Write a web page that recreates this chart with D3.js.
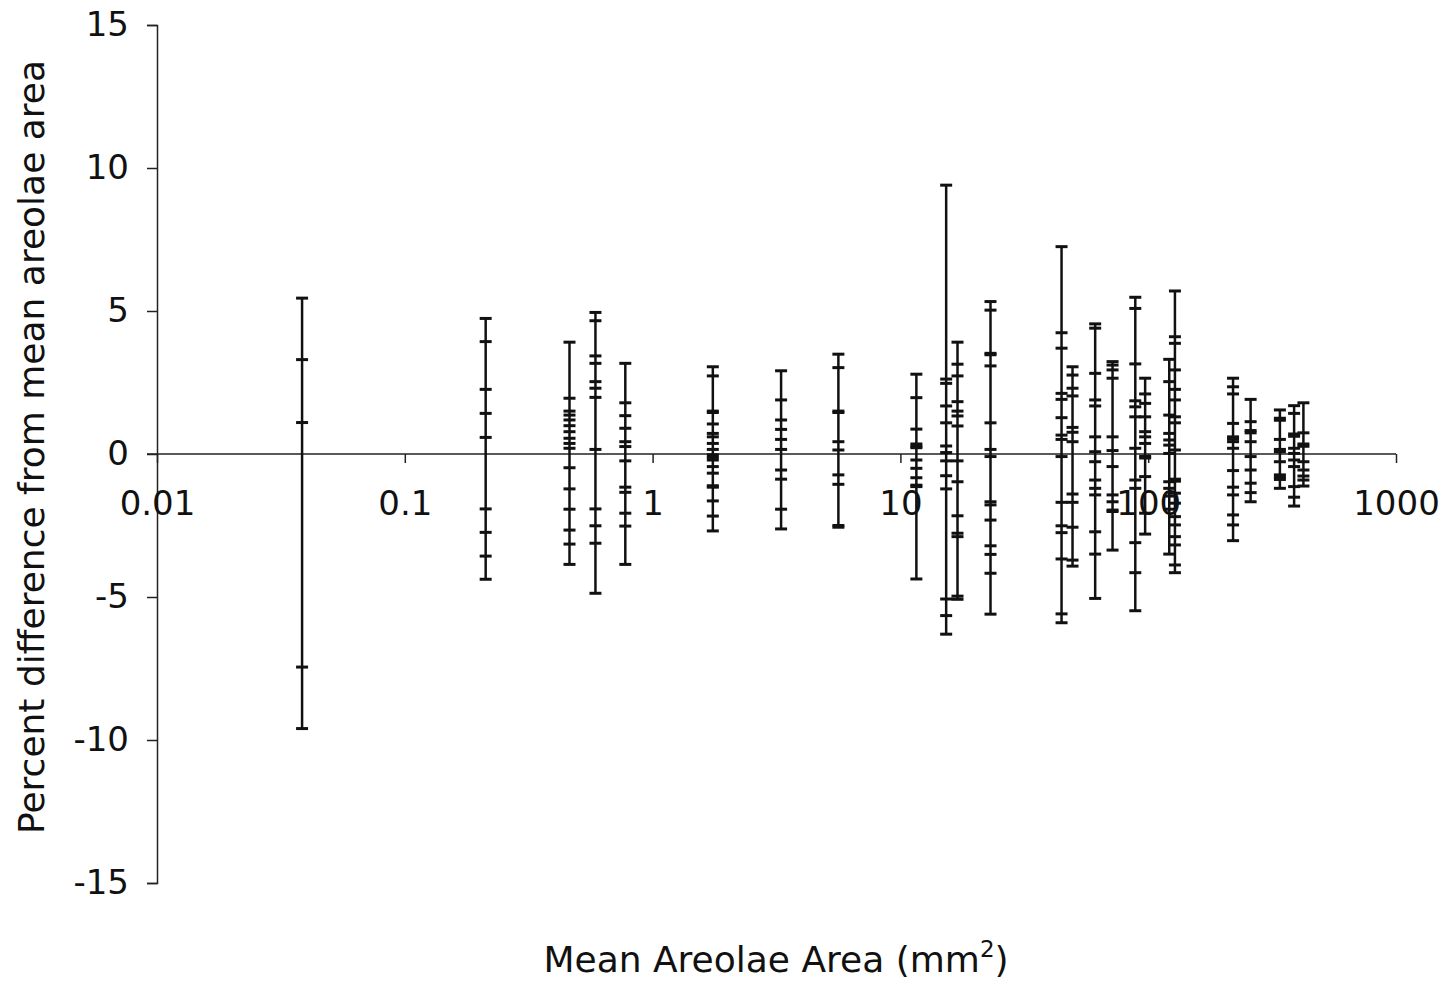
<!DOCTYPE html>
<html>
<head>
<meta charset="utf-8">
<script src="https://cdn.jsdelivr.net/npm/d3@7"></script>
<style>
  body { margin: 0; background: #fff; }
  text { font-family: "DejaVu Sans", Verdana, sans-serif; fill: #111; }
</style>
</head>
<body>
<div id="chart"></div>
<script>
// mean areolae area (mm2) of each sample
var areas = [0.0385, 0.212, 0.462, 0.588, 0.776, 1.75, 3.30, 5.62, 11.6, 15.3,
             17.0, 23.1, 44.7, 49.5, 61.1, 71.8, 88.7, 97.2, 121.6, 128.2,
             220, 259, 340, 388, 423];

// percent differences from mean areolae area, one list per sample
var diffs = [
  [5.45, 3.3, 1.1, -7.45, -9.6],
  [4.74, 3.93, 2.26, 1.42, 0.58, -1.92, -2.74, -3.57, -4.38],
  [3.91, 1.95, 1.5, 1.36, 1.19, 0.99, 0.78, 0.55, 0.37, 0.2, -0.48, -1.22, -1.93, -2.66, -3.15, -3.86],
  [4.95, 4.66, 3.43, 3.17, 2.53, 2.3, 1.98, 0.16, -1.92, -2.51, -3.12, -4.87],
  [3.17, 1.79, 1.34, 0.9, 0.43, 0.26, -0.24, -1.16, -1.34, -2.07, -2.52, -3.86],
  [3.05, 2.73, 1.5, 1.45, 1.05, 0.72, 0.6, 0.37, 0.16, -0.03, -0.12, -0.21, -0.44, -0.67, -1.11, -1.16, -1.64, -2.17, -2.69],
  [2.91, 1.89, 1.19, 0.86, 0.51, 0.16, -0.56, -0.88, -1.93, -2.62],
  [3.49, 3.02, 1.5, 1.45, 0.43, 0.14, -0.73, -1.06, -2.5, -2.56],
  [2.79, 1.97, 0.87, 0.35, 0.27, 0.22, -0.21, -0.5, -0.83, -1.09, -1.14, -4.37],
  [9.4, 2.62, 2.47, 1.68, 1.09, 0.28, 0.05, -0.24, -0.76, -1.22, -5.07, -5.65, -6.3],
  [3.91, 3.14, 2.73, 1.83, 1.5, 1.33, 0.98, -0.24, -0.97, -2.16, -2.77, -2.89, -4.97, -5.08],
  [5.33, 5.03, 3.52, 3.47, 3.08, 1.09, 0.16, -0.09, -1.67, -1.78, -2.31, -3.21, -3.51, -4.17, -5.6],
  [7.25, 4.24, 3.7, 2.12, 1.91, 1.27, 0.66, 0.51, -0.09, -1.69, -2.51, -2.75, -3.67, -5.59, -5.9],
  [3.05, 2.76, 2.3, 2.03, 0.93, 0.76, 0.43, -1.4, -1.69, -2.56, -3.71, -3.92],
  [4.55, 4.4, 2.82, 1.89, 1.68, 0.6, 0.08, -0.27, -0.91, -1.2, -1.43, -2.72, -3.5, -5.05],
  [3.23, 3.11, 2.94, 2.65, 0.6, 0.12, -0.44, -1.43, -1.67, -1.96, -2.01, -3.36],
  [5.48, 5.09, 3.15, 1.86, 1.65, 1.3, 0.2, -0.91, -1.2, -3.1, -4.15, -5.48],
  [2.65, 2.1, 1.77, 1.3, 0.78, 0.6, 0.37, -0.08, -0.14, -0.79, -2.07, -2.8],
  [3.31, 2.53, 1.36, 0.72, 0.49, 0.31, 0.02, -0.97, -1.2, -1.47, -1.93, -3.5],
  [5.7, 4.1, 3.87, 2.94, 2.26, 1.89, 1.3, 1.09, 0.14, -0.88, -0.95, -1.37, -1.72, -2.19, -2.48, -2.89, -3.18, -3.88, -4.15],
  [2.65, 2.35, 2.1, 1.07, 0.6, 0.52, 0.43, 0.2, -0.58, -1.16, -1.43, -2.13, -2.48, -3.03],
  [1.91, 1.13, 0.82, 0.74, 0.43, -0.09, -0.56, -1.02, -1.35, -1.67],
  [1.54, 1.25, 1.18, 0.51, 0.16, 0.08, -0.27, -0.73, -0.81, -0.89, -1.2],
  [1.69, 1.42, 0.7, 0.62, 0.2, 0.02, -0.21, -0.44, -1.14, -1.51, -1.82],
  [1.79, 0.74, 0.35, 0.27, -0.27, -0.56, -0.77, -0.91, -1.12]
];

var xTicks = [0.01, 0.1, 1, 10, 100, 1000];
var yTicks = [15, 10, 5, 0, -5, -10, -15];

var width = 1444, height = 981;
var svg = d3.select('#chart').append('svg')
  .attr('width', width)
  .attr('height', height);

var x = d3.scaleLog().domain([0.01, 1000]).range([157, 1396]);
var y = d3.scaleLinear().domain([-15, 15]).range([883, 25]);

// y axis
var yAxis = svg.append('g')
  .attr('transform', 'translate(157,0)')
  .call(d3.axisLeft(y).tickValues(yTicks).tickSize(10).tickPadding(18).tickFormat(d3.format('d')));
yAxis.select('.domain').attr('stroke', '#222').attr('stroke-width', 1.5);
yAxis.selectAll('.tick line').attr('stroke', '#222').attr('stroke-width', 1.5);
yAxis.selectAll('.tick text')
  .style('font-size', '34px')
  .text(d => d < 0 ? '-' + Math.abs(d) : d);

// x axis crossing at 0
var xAxis = svg.append('g')
  .attr('transform', 'translate(0,' + y(0) + ')')
  .call(d3.axisBottom(x).tickValues(xTicks).tickSize(9).tickPadding(28).tickSizeOuter(0)
    .tickFormat(d => String(d)));
xAxis.select('.domain').attr('d', 'M147,0H1396').attr('stroke', '#222').attr('stroke-width', 1.5);
xAxis.selectAll('.tick line').attr('stroke', '#222').attr('stroke-width', 1.5);
xAxis.selectAll('.tick text').style('font-size', '34px');

// samples: a vertical line from min to max, with a dash at every value
var groups = svg.append('g').selectAll('g')
  .data(areas.map((a, i) => ({ area: a, values: diffs[i] })))
  .join('g');

groups.append('line')
  .attr('x1', d => x(d.area))
  .attr('x2', d => x(d.area))
  .attr('y1', d => y(d3.max(d.values)))
  .attr('y2', d => y(d3.min(d.values)))
  .style('stroke', '#111')
  .style('stroke-width', 2.5);

groups.selectAll('.dash')
  .data(d => d.values.map(v => ({ area: d.area, v: v })))
  .join('line')
  .attr('class', 'dash')
  .attr('x1', d => x(d.area) - 6)
  .attr('x2', d => x(d.area) + 6)
  .attr('y1', d => y(d.v))
  .attr('y2', d => y(d.v))
  .style('stroke', '#111')
  .style('stroke-width', 3);

// titles
svg.append('text')
  .attr('x', 776)
  .attr('y', 972)
  .attr('text-anchor', 'middle')
  .style('font-size', '36px')
  .html('Mean Areolae Area (mm<tspan dy="-15" font-size="23px">2</tspan><tspan dy="15">)</tspan>');

svg.append('text')
  .attr('transform', 'translate(44,447) rotate(-90)')
  .attr('text-anchor', 'middle')
  .style('font-size', '36px')
  .text('Percent difference from mean areolae area');
</script>
</body>
</html>
